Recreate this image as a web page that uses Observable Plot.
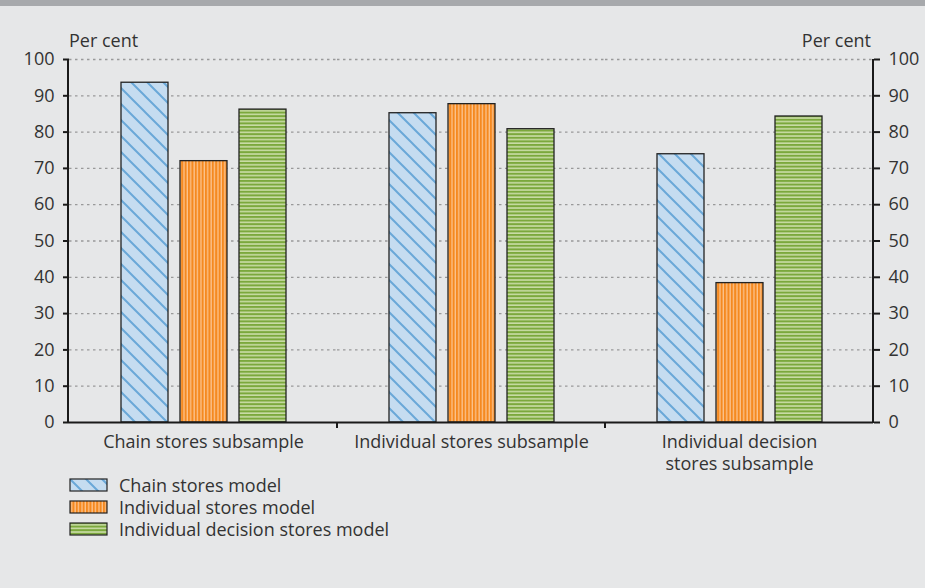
<!DOCTYPE html>
<html>
<head>
<meta charset="utf-8">
<script src="https://cdn.jsdelivr.net/npm/d3@7"></script>
<script src="https://cdn.jsdelivr.net/npm/@observablehq/plot@0.6"></script>
<style>
  body { margin: 0; background: #e6e7e8; font-family: "Open Sans", sans-serif; color: #333; }
  #wrap { position: relative; width: 925px; height: 588px; overflow: hidden; background: #e6e7e8; }
  #band { position: absolute; left: 0; top: 0; width: 925px; height: 6px; background: #a7a9ac; }
  #chart { position: absolute; left: 0; top: 0; }
  #legend { position: absolute; left: 69px; top: 474px; font-size: 18px; color: #333; }
  .row { display: flex; align-items: center; height: 22px; }
  .row svg { margin-right: 10px; }
  #defs { position: absolute; width: 0; height: 0; }
</style>
</head>
<body>
<svg id="defs" width="0" height="0">
  <defs>
    <pattern id="pat-chain" patternUnits="userSpaceOnUse" width="16" height="16">
      <rect width="16" height="16" fill="#c5dcf0"></rect>
      <path d="M-4,-4 L20,20 M-4,12 L4,20 M12,-4 L20,4" stroke="#6aa8d8" stroke-width="2"></path>
    </pattern>
    <pattern id="pat-indiv" patternUnits="userSpaceOnUse" width="3.4" height="10">
      <rect width="3.4" height="10" fill="#fbc38e"></rect>
      <rect width="2.1" height="10" fill="#f5891f"></rect>
    </pattern>
    <pattern id="pat-decision" patternUnits="userSpaceOnUse" width="10" height="3.6">
      <rect width="10" height="3.6" fill="#c9dca6"></rect>
      <rect width="10" height="2" fill="#7ba83c"></rect>
    </pattern>
  </defs>
</svg>
<div id="wrap">
  <div id="chart"></div>
  <div id="band"></div>
  <div id="legend"></div>
</div>
<script>
// Groups (subsamples) along the bottom and the three models compared in each
const groups = ["Chain stores subsample", "Individual stores subsample", "Individual decision stores subsample"];
const groupLabels = ["Chain stores subsample", "Individual stores subsample", "Individual decision\nstores subsample"];
const models = ["Chain stores model", "Individual stores model", "Individual decision stores model"];

// Per cent values, one per subsample
const chainModel = [93.6, 85.2, 73.9];
const individualModel = [72.0, 87.7, 38.4];
const decisionModel = [86.2, 80.8, 84.3];

const yTicks = [0, 10, 20, 30, 40, 50, 60, 70, 80, 90, 100];

const series = [chainModel, individualModel, decisionModel];
const fills = ["url(#pat-chain)", "url(#pat-indiv)", "url(#pat-decision)"];

const rows = groups.flatMap((g, i) =>
  models.map((m, j) => ({group: g, model: m, value: series[j][i]}))
);
const labelOf = new Map(groups.map((g, i) => [g, groupLabels[i]]));

const W = 925, H = 470;
const axisColor = "#1a1a1a";
const textColor = "#333";

const plot = Plot.plot({
  width: W,
  height: H,
  marginTop: 59,
  marginBottom: 48,
  marginLeft: 68,
  marginRight: 52,
  style: {background: "transparent", fontFamily: "'Open Sans', sans-serif", fontSize: "18px", color: textColor, overflow: "visible"},
  fx: {domain: groups, padding: 0},
  x: {domain: models, paddingInner: 0.21, paddingOuter: 0.84, axis: null},
  y: {domain: [0, 100], axis: null},
  marks: [
    Plot.gridY(yTicks.slice(1), {stroke: "#999", strokeOpacity: 1, strokeWidth: 1.3, strokeDasharray: "2.5,3.5"}),
    ...models.map((m, j) =>
      Plot.barY(rows.filter(d => d.model === m), {
        fx: "group", x: "model", y: "value",
        fill: fills[j], stroke: "#222", strokeWidth: 1.3
      })
    ),
    Plot.ruleY([0], {stroke: axisColor, strokeWidth: 2}),
    Plot.axisY({anchor: "left", ticks: yTicks, tickSize: 6, tickPadding: 9, stroke: axisColor, strokeWidth: 2, fill: textColor, label: null}),
    Plot.axisY({anchor: "right", ticks: yTicks, tickSize: 6, tickPadding: 9, stroke: axisColor, strokeWidth: 2, fill: textColor, label: null}),
    Plot.axisFx({anchor: "bottom", tickSize: 0, tickPadding: 11, tickFormat: g => labelOf.get(g), lineHeight: 1.17, fill: textColor, label: null})
  ]
});

document.getElementById("chart").appendChild(plot);

// Axis lines, group separators and unit labels drawn from the plot's own scales
const svg = d3.select(plot);
const fx = plot.scale("fx");
const y = plot.scale("y");
const y0 = y.apply(0), y100 = y.apply(100);
const left = 68, right = W - 52;
const g = svg.append("g").attr("stroke", axisColor).attr("stroke-width", 2);
g.append("line").attr("x1", left).attr("x2", left).attr("y1", y100).attr("y2", y0 + 1);
g.append("line").attr("x1", right).attr("x2", right).attr("y1", y100).attr("y2", y0 + 1);
groups.slice(1).forEach(gr => {
  const x = fx.apply(gr);
  g.append("line").attr("x1", x).attr("x2", x).attr("y1", y0).attr("y2", y0 + 6);
});
const t = svg.append("g").attr("fill", textColor).attr("font-size", 18);
t.append("text").attr("x", left + 1).attr("y", y100 - 12).attr("text-anchor", "start").text("Per cent");
t.append("text").attr("x", right - 2).attr("y", y100 - 12).attr("text-anchor", "end").text("Per cent");

// Legend
const legend = d3.select("#legend");
models.forEach((m, j) => {
  const row = legend.append("div").attr("class", "row");
  const s = row.append("svg").attr("width", 40).attr("height", 14);
  s.append("rect").attr("x", 1).attr("y", 1).attr("width", 37).attr("height", 12)
    .attr("fill", fills[j]).attr("stroke", "#222").attr("stroke-width", 1.2);
  row.append("span").text(m);
});
</script>
</body>
</html>
